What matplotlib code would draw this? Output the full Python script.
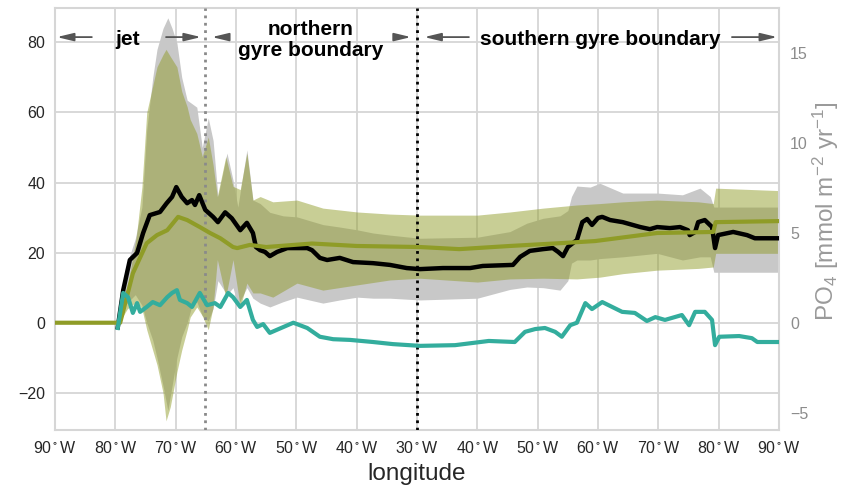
import matplotlib.pyplot as plt

plt.rcParams['font.family'] = ['Liberation Sans', 'DejaVu Sans']
plt.rcParams['mathtext.fontset'] = 'custom'
plt.rcParams['mathtext.rm'] = 'Liberation Sans'
plt.rcParams['mathtext.it'] = 'Liberation Sans:italic'
plt.rcParams['mathtext.bf'] = 'Liberation Sans:bold'
plt.rcParams['mathtext.default'] = 'regular'

# position along the transect (10 units per tick)
tick_pos = [0, 10, 20, 30, 40, 50, 60, 70, 80, 90, 100, 110, 120]
tick_lon = [90, 80, 70, 60, 50, 40, 30, 40, 50, 60, 70, 80, 90]

# black line
total_x = [10.4, 11.3, 12.4, 13.6, 14.6, 15.7, 17.4, 18.5, 19.4, 20.1, 21.0, 21.9, 22.7,
           23.2, 23.9, 24.9, 26.2, 27.0, 28.2, 29.3, 30.7, 31.8, 32.8, 33.3, 34.0, 34.8,
           35.6, 36.8, 38.5, 40.1, 41.8, 42.6, 43.9, 45.1, 47.2, 49.4, 52.7, 55.5, 58.3,
           60.5, 64.3, 68.8, 70.9, 75.9, 77.1, 78.7, 80.9, 82.5, 83.4, 84.2, 85.0, 86.5,
           87.4, 88.2, 89.0, 90.0, 90.7, 92.0, 94.1, 97.0, 98.6, 99.8, 101.9, 103.6,
           104.9, 105.2, 106.1, 106.6, 107.7, 108.9, 109.4, 109.9, 112.4, 114.7, 116.0, 120]
total_y = [-1.3, 9.3, 17.9, 19.9, 25.6, 30.7, 31.6, 34.1, 35.9, 38.7, 35.9, 34.1, 35.0,
           33.6, 36.4, 32.2, 30.2, 28.7, 31.5, 29.8, 26.4, 28.5, 25.6, 21.6, 20.7, 20.2,
           19.0, 20.2, 21.3, 21.3, 21.3, 20.7, 18.5, 17.9, 18.5, 17.3, 17.0, 16.5, 15.6,
           15.3, 15.6, 15.6, 16.2, 16.5, 18.8, 20.5, 21.0, 21.3, 20.2, 19.0, 21.6, 23.6,
           28.7, 29.6, 27.9, 29.9, 30.2, 29.3, 28.7, 27.3, 26.7, 27.3, 27.0, 27.3,
           26.4, 25.0, 25.9, 28.7, 29.3, 27.3, 21.3, 25.0, 25.9, 25.0, 24.1, 24.1]

# olive line
mean_x = [0, 10.8, 12.9, 15.2, 16.9, 18.6, 20.4, 21.9, 24.0, 25.7, 27.4, 29.5, 30.2,
          32.3, 35.0, 42.6, 50.0, 60.5, 67.0, 75.4, 83.7, 89.5, 99.8, 109.1, 109.5, 120]
mean_y = [0, 0, 14.1, 22.7, 25.0, 26.4, 30.2, 29.3, 27.3, 25.6, 24.1, 21.6, 21.3,
          22.2, 21.6, 22.6, 21.9, 21.6, 21.0, 21.9, 22.7, 23.3, 25.6, 25.9, 28.7, 29.0]

# teal line
diff_x = [10.4, 11.3, 12.1, 12.9, 13.6, 14.1, 15.2, 16.2, 17.4, 18.6, 19.4, 20.2, 20.7,
          21.9, 22.7, 24.0, 25.2, 26.5, 27.4, 28.7, 29.5, 30.7, 31.8, 32.8, 33.5, 34.5,
          35.6, 36.8, 39.5, 41.8, 43.9, 46.1, 48.9, 52.7, 56.0, 60.5, 66.3, 69.1, 71.9,
          76.2, 77.9, 79.6, 81.2, 82.9, 84.0, 85.4, 86.5, 87.9, 89.0, 90.7, 94.0, 96.1,
          98.1, 99.5, 101.1, 103.9, 105.1, 106.1, 107.7, 108.9, 109.4, 110.1, 113.4,
          115.5, 116.4, 120]
diff_y = [-1.5, 8.5, 7.3, 2.8, 5.6, 3.1, 4.5, 5.9, 5.0, 7.3, 8.5, 9.3, 6.5,
          5.6, 4.5, 8.5, 5.0, 5.6, 4.5, 8.5, 7.3, 4.5, 6.5, 0.8, -1.2, -0.4,
          -2.9, -2.0, 0.0, -1.5, -4.0, -4.7, -4.9, -5.5, -6.1, -6.6, -6.4, -5.8, -5.2,
          -5.5, -2.6, -1.8, -1.5, -2.6, -4.0, -0.7, 0.0, 5.6, 3.9, 5.9, 3.1, 2.8,
          0.5, 1.6, 0.8, 2.2, -0.7, 3.1, 3.1, 0.8, -6.4, -4.0, -3.8,
          -4.4, -5.5, -5.5]

# gray spread around black line
gray_x = [10.4, 11.6, 13.3, 14.4, 15.2, 16.2, 16.9, 17.9, 18.7, 19.4, 20.2, 21.0, 21.9,
          22.7, 23.5, 24.4, 25.4, 26.2, 27.0, 28.5, 29.5, 30.3, 31.8, 32.8, 34.0, 35.6,
          37.8, 40.1, 44.4, 47.2, 50.1, 52.7, 55.5, 60.5, 70.0, 75.4, 78.2, 80.9, 83.7,
          85.0, 85.6, 86.5, 88.7, 90.3, 94.1, 99.8, 104.0, 106.9, 108.6, 109.2, 120]
gray_lo = [-1.5, 5, 8, 5, 0, -5, -10, -18, -25, -18, -10, -4, 0,
           5, 6, 2, 0.5, 4, 12, 8, 10, 5, 10, 7, 5.6, 4.5,
           6, 7.3, 5.6, 6.5, 7.3, 7, 7, 6.5, 7, 9.5, 10.2, 10, 9.3,
           12, 17, 17.9, 17.9, 18.3, 18.8, 19.8, 17.9, 18.8, 18.8, 14.4, 14.4]
gray_hi = [0, 15, 24, 33, 55, 70, 78, 84, 87, 84, 79.8, 70, 63.5,
           62.5, 61.5, 50, 58.4, 52, 36, 48.4, 40.7, 33, 49.3, 35, 34, 31.5,
           30.5, 30.2, 28, 27.3, 26.5, 25.6, 25, 24.1, 24.4, 26, 28.4, 29.8, 30.5,
           32, 36, 39, 38.7, 39.8, 37, 37, 36.5, 38.4, 36, 33, 33]

# olive spread around olive line
band_x = [10.6, 12.0, 13.5, 14.4, 15.2, 16.9, 17.9, 18.4, 19.1, 20.2, 21.0, 21.9, 22.4,
          23.5, 24.4, 25.4, 26.2, 26.9, 28.3, 29.5, 30.7, 31.8, 32.8, 34.0, 36.1, 40.1,
          44.4, 50.1, 55.5, 60.5, 70.0, 75.4, 80.9, 86.5, 90.3, 94.1, 99.8, 106.6,
          109.1, 109.5, 120]
band_lo = [0, 4, 6, 4, -2, -12, -20, -28, -24, -14, -7.8, -2, 1.6,
           4.5, 2, -2, 4.5, 18, 7.3, 18, 4.5, 11.3, 8.5, 8.5, 7.3, 11.3,
           9.3, 10.8, 12.2, 12.7, 11.6, 12.5, 12.7, 12.5, 13, 14, 15, 15.5,
           15.9, 19.8, 19.8]
band_hi = [0, 10, 25, 38.7, 60, 73, 76.5, 78, 76, 73, 66, 61.6, 58,
           54, 47.4, 53, 45, 36, 47.4, 38.9, 38, 48.4, 35, 36, 34.5, 35,
           32.7, 31.6, 31, 30.7, 30.7, 31.6, 32.7, 33.6, 34, 34.5, 35, 34.5,
           34, 38.4, 37.7]

fig = plt.figure(figsize=(8.44, 4.88), dpi=100)
ax = fig.add_axes([0.0652, 0.1189, 0.8578, 0.8647])

ax.fill_between(gray_x, gray_lo, gray_hi, color='#c8c8c8', lw=0, zorder=1)
ax.fill_between(band_x, band_lo, band_hi, color='#8f9b28', alpha=0.49, lw=0, zorder=2)

ax.axvline(24.9, color='#8a8a8a', ls=':', lw=2, zorder=3)
ax.axvline(60, color='black', ls=':', lw=2, zorder=3)

ax.plot(total_x, total_y, color='black', lw=3.2, zorder=4)
ax.plot(mean_x, mean_y, color='#8f9c27', lw=3, zorder=5)
ax.plot(diff_x, diff_y, color='#33ad9d', lw=3, zorder=6)

ax.set_xlim(0, 120)
ax.set_ylim(-30.6, 89.8)
ax.set_xticks(tick_pos)
ax.set_xticklabels([r'%d$^\circ$W' % v for v in tick_lon])
ax.set_yticks([-20, 0, 20, 40, 60, 80])
ax.set_yticklabels(['\u221220', '0', '20', '40', '60', '80'])
ax.grid(color='#d6d6d6', lw=1.3)
ax.set_axisbelow(True)
ax.tick_params(length=0, labelsize=11.5, colors='#262626', pad=7)
for s in ax.spines.values():
    s.set_color('#d6d6d6')
    s.set_linewidth(1.5)
ax.set_xlabel('longitude', fontsize=17.5, color='#262626', labelpad=5)

ax2 = ax.twinx()
ax2.set_ylim(-5.96, 17.5)
ax2.set_yticks([-5, 0, 5, 10, 15])
ax2.set_yticklabels(['\u22125', '0', '5', '10', '15'])
ax2.tick_params(length=0, labelsize=11.5, colors='#8c8c8c', pad=8)
for s in ax2.spines.values():
    s.set_visible(False)
fig.text(0.979, 0.567, r'PO$_4$ [mmol m$^{-2}$ yr$^{-1}$]', fontsize=17.5,
         color='#9a9a9a', rotation=90, ha='center', va='center')

# region labels with arrows
arrow = dict(arrowstyle='-|>,head_length=0.5,head_width=0.12', color='#555555',
             lw=1.3, mutation_scale=20, shrinkA=0, shrinkB=0)
ya = 81.5
fs = 15
ax.text(12, ya - 0.8, 'jet', ha='center', va='center', fontsize=fs, fontweight='bold', zorder=7)
ax.annotate('', xy=(0.3, ya), xytext=(6.1, ya), arrowprops=arrow, zorder=7)
ax.annotate('', xy=(24.2, ya), xytext=(18.4, ya), arrowprops=arrow, zorder=7)
ax.text(42.3, ya - 0.8, 'northern\ngyre boundary', ha='center', va='center', fontsize=fs,
        fontweight='bold', linespacing=1.15, zorder=7)
ax.annotate('', xy=(26.0, ya), xytext=(28.7, ya), arrowprops=arrow, zorder=7)
ax.annotate('', xy=(59.0, ya), xytext=(56.4, ya), arrowprops=arrow, zorder=7)
ax.text(90.3, ya - 0.8, 'southern gyre boundary', ha='center', va='center', fontsize=fs,
        fontweight='bold', zorder=7)
ax.annotate('', xy=(61.2, ya), xytext=(68.6, ya), arrowprops=arrow, zorder=7)
ax.annotate('', xy=(119.7, ya), xytext=(112.2, ya), arrowprops=arrow, zorder=7)

plt.savefig('out.png', dpi=100)
